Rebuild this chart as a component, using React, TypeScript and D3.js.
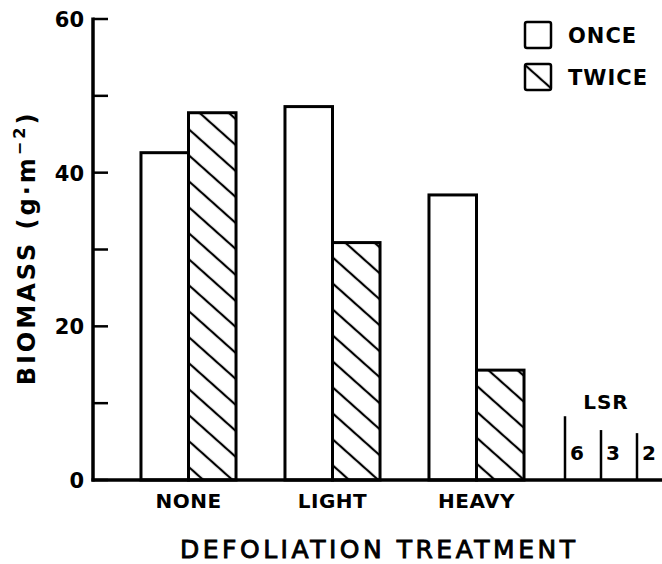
import React from "react";
import * as d3 from "d3";

const categories = ["NONE", "LIGHT", "HEAVY"];
const series = ["ONCE", "TWICE"];
const onceValues = [42.6, 48.6, 37.1];
const twiceValues = [47.8, 30.9, 14.3];
const yTicks = [0, 10, 20, 30, 40, 50, 60];
const yTickLabels = [0, 20, 40, 60];
const lsrLabels = ["6", "3", "2"];
const lsrValues = [8.3, 6.5, 6.1];

const FONT = "'DejaVu Sans', sans-serif";

export default function App() {
  const W = 662;
  const H = 564;
  const axisX = 93;
  const y = d3.scaleLinear().domain([0, 60]).range([480, 19]);
  const x0 = d3
    .scaleBand<string>()
    .domain(categories)
    .range([116.5, 548.5])
    .paddingInner(0.34)
    .paddingOuter(0.17);
  const x1 = d3.scaleBand<string>().domain(series).range([0, x0.bandwidth()]);
  const xl = d3.scalePoint<string>().domain(lsrLabels).range([565, 637]);

  const valuesBySeries: Record<string, number[]> = { ONCE: onceValues, TWICE: twiceValues };

  return (
    <svg
      width={W}
      height={H}
      style={{ position: "absolute", left: 0, top: 0, background: "#fff" }}
      fontFamily={FONT}
    >
      <defs>
        <pattern
          id="hatch"
          patternUnits="userSpaceOnUse"
          width={10}
          height={19.4}
          patternTransform="rotate(41.7)"
        >
          <line x1={0} y1={9.7} x2={10} y2={9.7} stroke="#000" strokeWidth={2.2} />
        </pattern>
      </defs>
      <rect x={0} y={0} width={W} height={H} fill="#fff" />

      {/* bars */}
      {categories.map((c, i) =>
        series.map((s) => {
          const v = valuesBySeries[s][i];
          const bx = (x0(c) as number) + (x1(s) as number);
          return (
            <rect
              key={c + s}
              x={bx}
              y={y(v)}
              width={x1.bandwidth()}
              height={y(0) - y(v)}
              fill={s === "TWICE" ? "url(#hatch)" : "#fff"}
              stroke="#000"
              strokeWidth={3}
            />
          );
        })
      )}

      {/* LSR */}
      {lsrLabels.map((l, i) => (
        <g key={l}>
          <line
            x1={xl(l) as number}
            x2={xl(l) as number}
            y1={y(0)}
            y2={y(lsrValues[i])}
            stroke="#000"
            strokeWidth={2.5}
          />
          <text x={(xl(l) as number) + 5} y={460} fontSize={20} fontWeight="bold">
            {l}
          </text>
        </g>
      ))}
      <text x={606} y={409} fontSize={20} fontWeight="bold" textAnchor="middle" letterSpacing={1}>
        LSR
      </text>

      {/* y axis */}
      <line x1={axisX} x2={axisX} y1={y(60) - 1.5} y2={y(0) + 1.5} stroke="#000" strokeWidth={3.5} />
      {yTicks.map((t) => (
        <line key={t} x1={axisX} x2={axisX + 15} y1={y(t)} y2={y(t)} stroke="#000" strokeWidth={2.5} />
      ))}
      {yTickLabels.map((t) => (
        <text key={t} x={84} y={y(t) + 8} fontSize={21} fontWeight="bold" textAnchor="end">
          {t}
        </text>
      ))}
      {/* baseline */}
      <line x1={axisX - 1.5} x2={W} y1={y(0)} y2={y(0)} stroke="#000" strokeWidth={3.5} />

      {/* category labels */}
      {categories.map((c) => (
        <text
          key={c}
          x={(x0(c) as number) + x0.bandwidth() / 2}
          y={508}
          fontSize={20}
          fontWeight="bold"
          textAnchor="middle"
          letterSpacing={0.5}
        >
          {c}
        </text>
      ))}

      {/* x title */}
      <text
        x={180}
        y={558}
        fontSize={25}
        stroke="#000"
        strokeWidth={0.9}
        textLength={395}
        lengthAdjust="spacing"
      >
        DEFOLIATION TREATMENT
      </text>

      {/* y title */}
      <text
        transform="translate(35,248) rotate(-90)"
        fontSize={24}
        fontWeight="bold"
        textAnchor="middle"
        letterSpacing={3}
      >
        BIOMASS (g·m
        <tspan fontSize={16} dy={-10}>
          −2
        </tspan>
        <tspan dy={10}>)</tspan>
      </text>

      {/* legend */}
      {series.map((s, i) => (
        <g key={s}>
          <rect
            x={525}
            y={22 + i * 42}
            width={26}
            height={26}
            rx={2}
            fill={s === "TWICE" ? "url(#hatch)" : "#fff"}
            stroke="#000"
            strokeWidth={2.5}
          />
          <text x={568} y={43 + i * 42} fontSize={21} fontWeight="bold" letterSpacing={1}>
            {s}
          </text>
        </g>
      ))}
    </svg>
  );
}
